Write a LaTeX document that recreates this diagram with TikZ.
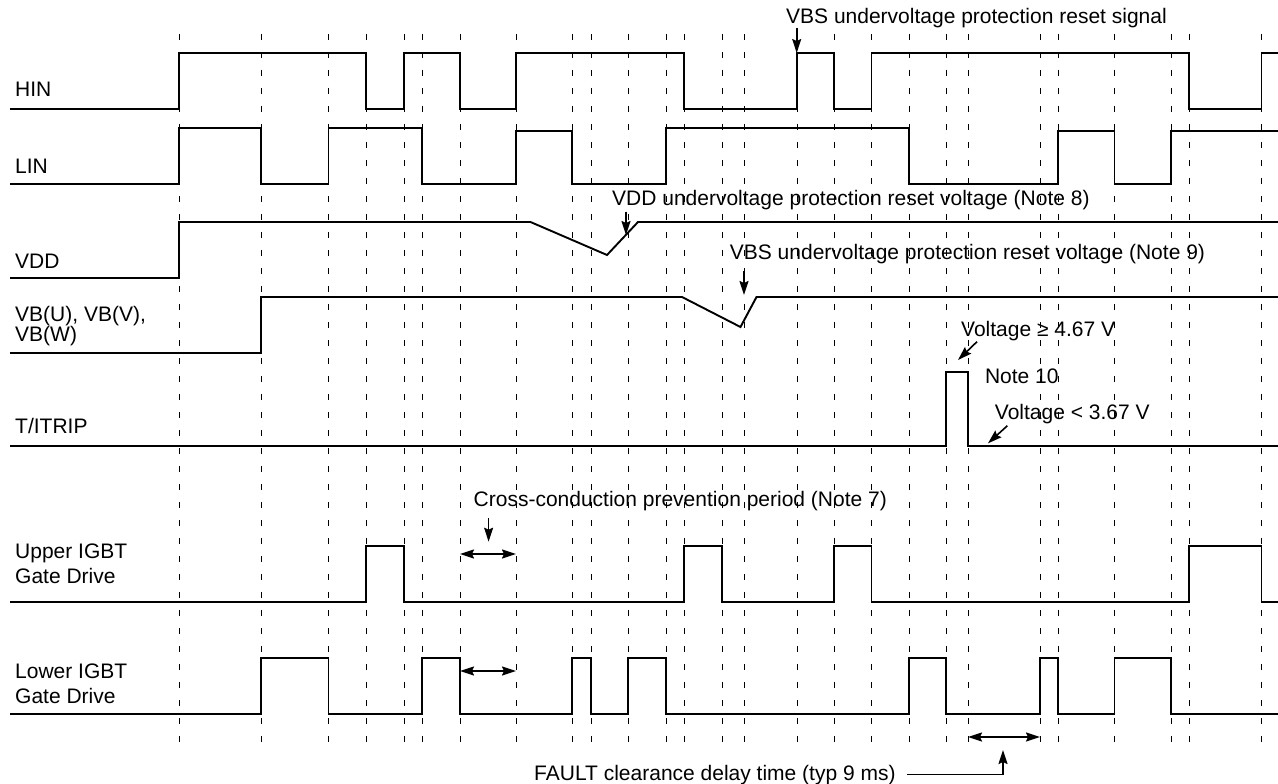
\documentclass[tikz,border=0pt]{standalone}
\usepackage{fontspec}
\setmainfont{Liberation Sans}
\usetikzlibrary{arrows.meta}

\begin{document}
\begin{tikzpicture}[x=1pt,y=-1pt,
  sig/.style={line width=1.9pt},
  tickline/.style={line width=1pt, dash pattern=on 6pt off 12pt},
  lbl/.style={font=\fontsize{21}{25}\selectfont, inner sep=0pt},
  arr/.style={line width=1.6pt, -{Stealth[length=14pt,width=9pt,inset=2pt]}},
  dbl/.style={line width=1.6pt, {Stealth[length=14pt,width=9pt,inset=2pt]}-{Stealth[length=14pt,width=9pt,inset=2pt]}}]

\useasboundingbox (0,0) rectangle (1278,784);

\foreach \x in {179,261,328.5,366,404,422,460,516,572,591,628,666,684,722,744,797,834,871.5,909,946,968,1040,1058,1114.5,1171,1189,1261.5}
  \draw [tickline] (\x,34) -- (\x,742);

% signals
\draw [sig] (10,109) -| (179,53) -| (366,109) -| (404,53) -| (460,109) -| (516,53) -| (684,109) -| (797,53) -| (834,109) -| (871.5,53) -| (1189,109) -| (1261.5,53) -- (1278,53);
\draw [sig] (10,184) -| (179,128) -| (261,184) -| (328.5,128) -| (422,184) -| (516,131) -| (572,184) -| (666,128) -| (909,184) -| (1058,131) -| (1114.5,184) -| (1171,131) -- (1278,131);
\draw [sig] (10,278) -| (179,222) -- (530.5,222) -- (607,255) -- (638,222) -- (1278,222);
\draw [sig] (10,353) -| (261,297) -- (682,297) -- (740.5,327) -- (756.5,297) -- (1278,297);
\draw [sig] (10,446) -| (946,372) -| (968,446) -- (1278,446);
\draw [sig] (10,602) -| (366,546) -| (404,602) -| (684,546) -| (722,602) -| (834,546) -| (871.5,602) -| (1189,546) -| (1261.5,602) -- (1278,602);
\draw [sig] (10,714) -| (261,658) -| (328.5,714) -| (422,658) -| (460,714) -| (572,658) -| (591,714) -| (628,658) -| (666,714) -| (909,658) -| (946,714) -| (1040,658) -| (1058,714) -| (1114.5,658) -| (1171,714) -- (1278,714);

% signal names
\node [lbl, anchor=base west] (hin) at (15,96.7) {HIN};
\node [lbl, anchor=base west] (lin) at (15,173.3) {LIN};
\node [lbl, anchor=base west] (vdd) at (15,268.3) {VDD};
\node [lbl, anchor=west, align=left, font=\fontsize{21}{20}\selectfont] (vb) at (15,326) {VB(U), VB(V),\\VB(W)};
\node [lbl, anchor=base west] (trip) at (15,433.3) {T/ITRIP};
\node [lbl, anchor=west, align=left] (upper) at (15,564) {Upper IGBT\\Gate Drive};
\node [lbl, anchor=west, align=left] (lower) at (15,683.3) {Lower IGBT\\Gate Drive};

% notes
\node [lbl, anchor=base west] (rstsig) at (786,23.3) {VBS undervoltage protection reset signal};
\node [lbl, anchor=base west] (vddrst) at (612,205) {VDD undervoltage protection reset voltage (Note 8)};
\node [lbl, anchor=base west] (vbsrst) at (729.7,259.3) {VBS undervoltage protection reset voltage (Note 9)};
\node [lbl, anchor=base west] (vhigh) at (961,336.7) {Voltage ≥ 4.67 V};
\node [lbl, anchor=base west] (note10) at (984.8,383.3) {Note 10};
\node [lbl, anchor=base west] (vlow) at (994.7,419) {Voltage < 3.67 V};
\node [lbl, anchor=base west] (cross) at (473.5,506.7) {Cross-conduction prevention period (Note 7)};
\node [lbl, anchor=base west] (fault) at (534,780) {FAULT clearance delay time (typ 9 ms)};

\coordinate (rsttip) at (796.7,53);
\coordinate (vddtip) at (626,235);
\coordinate (vbstip) at (744,295);
\coordinate (hightip) at (958,360);
\coordinate (lowtip) at (988,443.3);
\coordinate (crosstip) at (488.6,541.7);
\coordinate (fltup) at (1003,750);

\draw [arr] (rstsig.south -| rsttip) -- (rsttip);
\draw [arr] ([yshift=-2pt]vddrst.south -| vddtip) -- (vddtip);
\draw [arr] ([yshift=-7pt]vbsrst.south -| vbstip) -- (vbstip);
\draw [arr] (977,341.7) -- (hightip);
\draw [arr] (1007.4,425.7) -- (lowtip);
\draw [arr] ([yshift=-7pt]cross.south -| crosstip) -- (crosstip);
\draw [dbl] (460,554) -- (516,554);
\draw [dbl] (460,671) -- (516,671);
\draw [dbl] (968,737) -- (1040,737);
\draw [arr] ([xshift=11pt]fault.east) -| (fltup);
\end{tikzpicture}
\end{document}
